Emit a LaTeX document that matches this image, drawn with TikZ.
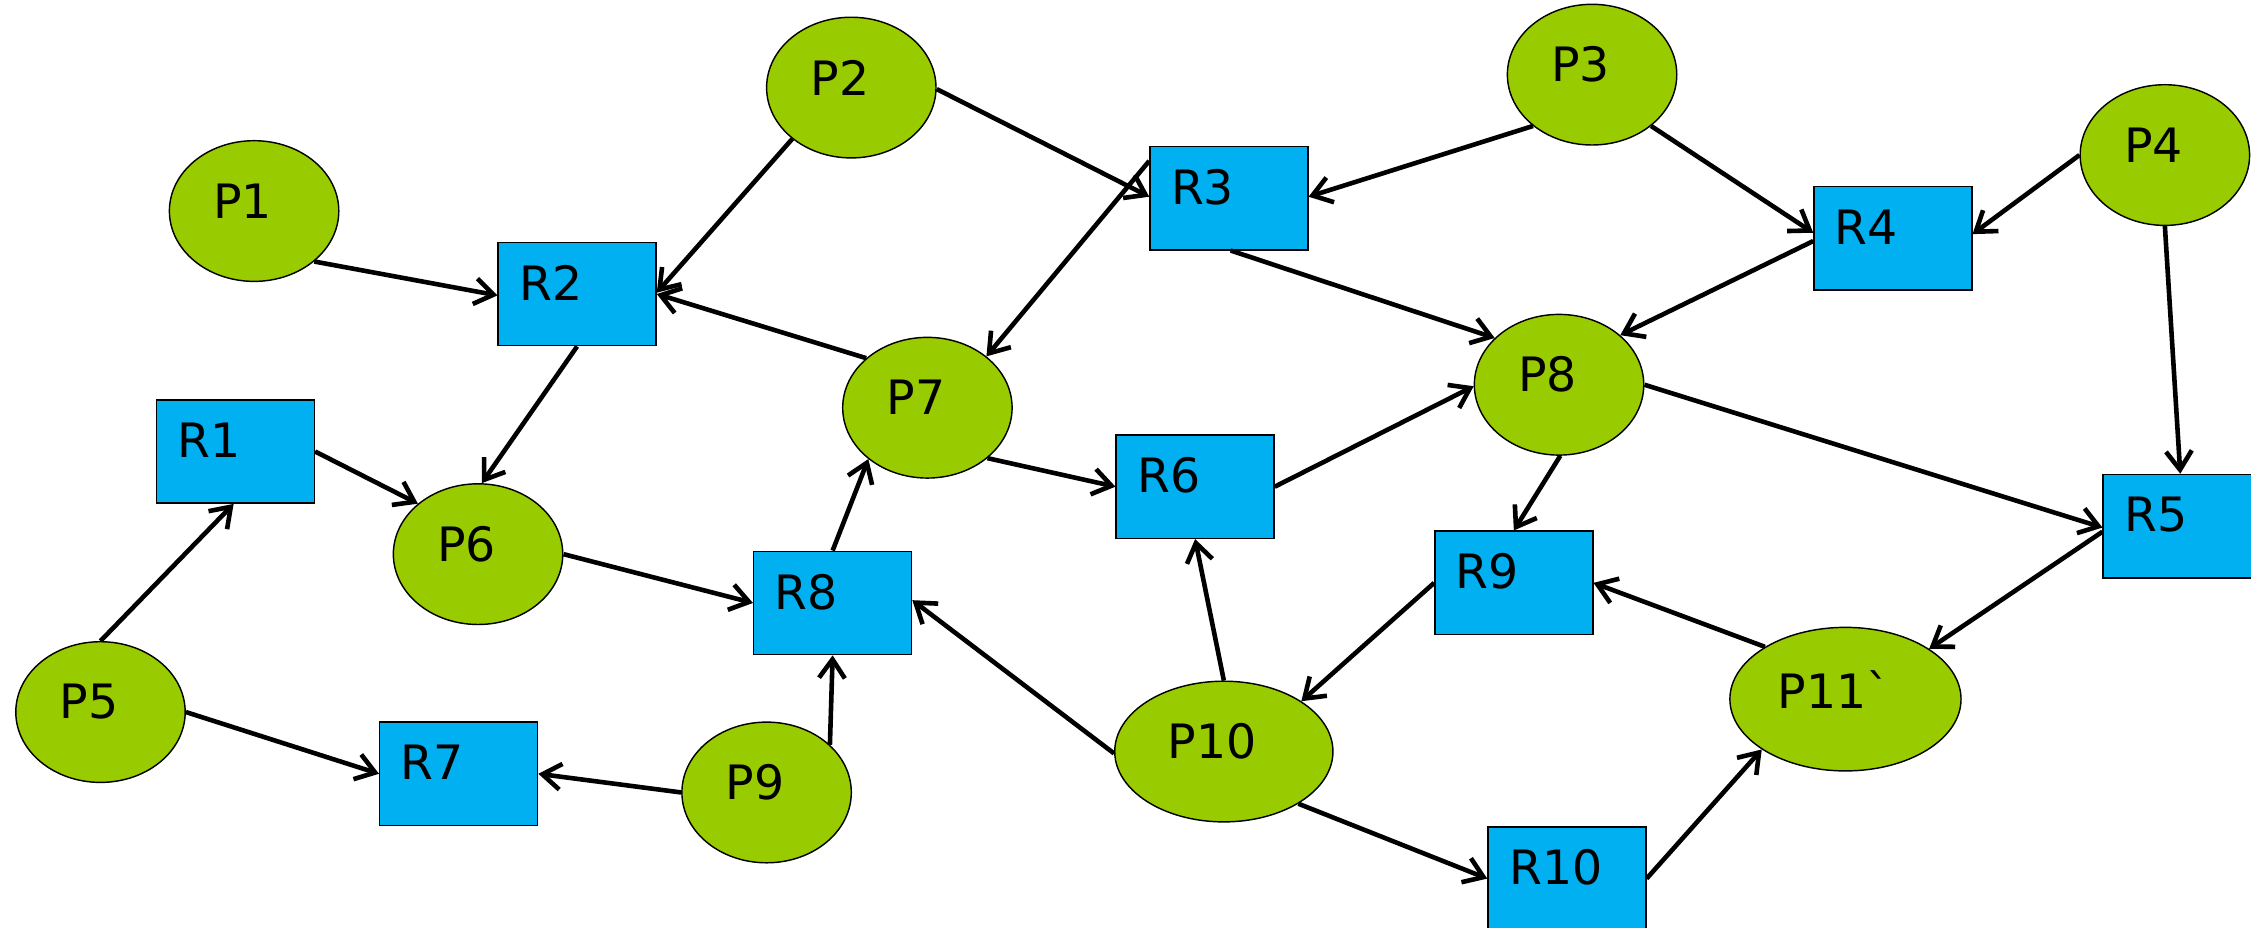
\documentclass[tikz,border=0pt]{standalone}
\usepackage{fontspec}
\newfontfamily\dv{DejaVu Sans}
\usetikzlibrary{shapes.geometric,arrows.meta}
\definecolor{pgreen}{HTML}{99CC00}
\definecolor{rblue}{HTML}{00B0F0}
\begin{document}
\begin{tikzpicture}[x=1pt,y=-1pt,
  lab/.style={font=\dv\fontsize{33}{40}\selectfont, inner sep=0pt, text=black},
  place/.style={ellipse, draw=black, line width=1pt, fill=pgreen, minimum width=118pt, minimum height=98pt, inner sep=0pt, label={[lab,xshift=-8pt,yshift=7pt]center:#1}},
  res/.style={rectangle, draw=black, line width=1pt, fill=rblue, minimum width=110pt, minimum height=72pt, inner sep=0pt, label={[lab,anchor=west,xshift=15pt,yshift=7.8pt]west:#1}},
  arc/.style={line width=3.2pt, -{Straight Barb[length=13pt,width=18pt]}}]
\useasboundingbox (0,0) rectangle (1568,646);
\clip (0,0) rectangle (1568,646);
% places
\node[place={P1}] (P1) at (177,147) {};
\node[place={P2}] (P2) at (593,61) {};
\node[place={P3}] (P3) at (1109,52) {};
\node[place={P4}] (P4) at (1508,108) {};
\node[place={P5}] (P5) at (70,496) {};
\node[place={P6}] (P6) at (333,386) {};
\node[place={P7}] (P7) at (646,284) {};
\node[place={P8}] (P8) at (1086,268) {};
\node[place={P9}] (P9) at (534,552) {};
\node[place={P10}, minimum width=152pt] (P10) at (852.5,523.5) {};
\node[place={P11`}, minimum width=161pt, minimum height=100pt] (P11) at (1285.5,487) {};
% resources
\node[res={R1}] (R1) at (164,314.5) {};
\node[res={R2}] (R2) at (402,204.8) {};
\node[res={R3}] (R3) at (856,138) {};
\node[res={R4}] (R4) at (1318.5,166) {};
\node[res={R5}] (R5) at (1520,366.5) {};
\node[res={R6}] (R6) at (832.5,339) {};
\node[res={R7}] (R7) at (319.5,539) {};
\node[res={R8}] (R8) at (580,420) {};
\node[res={R9}] (R9) at (1054.5,406) {};
\node[res={R10}] (R10) at (1091.5,612) {};
% connectors
\draw[arc] (P1.-40) -- (R2.181);
\draw[arc] (P2.221) -- (R2.1);
\draw[arc] (P2.-1) -- (R3.179);
\draw[arc] (P3.221) -- (R3.1);
\draw[arc] (P3.-41) -- (R4.176);
\draw[arc] (P4.180) -- (R4.3);
\draw[arc] (P4.-90) -- (R5.92);
\draw[arc] (R3.155) -- (P7.41);
\draw[arc] (R3.-88) -- (P8.144);
\draw[arc] (R4.182) -- (P8.39);
\draw[arc] (P7.141) -- (R2.0);
\draw[arc] (R2.-90) -- (P6.87);
\draw[arc] (R1.0) -- (P6.140);
\draw[arc] (P5.90) -- (R1.-92);
\draw[arc] (P5.0) -- (R7.180);
\draw[arc] (P6.0) -- (R8.180);
\draw[arc] (R8.90) -- (P7.221);
\draw[arc] (P7.-40) -- (R6.180);
\draw[arc] (R6.0) -- (P8.181);
\draw[arc] (P8.-89) -- (R9.90);
\draw[arc] (P8.0) -- (R5.181);
\draw[arc] (R5.184) -- (P11.31);
\draw[arc] (P9.180) -- (R7.0);
\draw[arc] (P9.37) -- (R8.-90);
\draw[arc] (P10.181) -- (R8.2);
\draw[arc] (P10.90) -- (R6.-90);
\draw[arc] (R9.180) -- (P10.33);
\draw[arc] (P11.147) -- (R9.0);
\draw[arc] (P10.-35) -- (R10.180);
\draw[arc] (R10.0) -- (P11.211);
\end{tikzpicture}
\end{document}
